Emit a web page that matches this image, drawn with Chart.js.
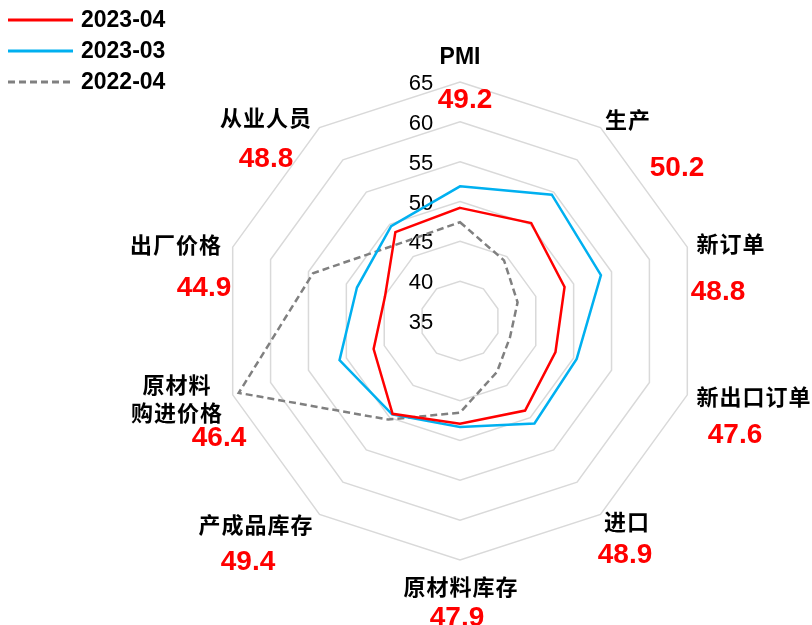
<!DOCTYPE html>
<html>
<head>
<meta charset="utf-8">
<script src="https://cdn.jsdelivr.net/npm/chart.js@4.4.1/dist/chart.umd.min.js"></script>
<style>
  html, body { margin: 0; padding: 0; background: #ffffff; }
  canvas { display: block; }
</style>
</head>
<body>
<canvas id="pmiRadar" width="812" height="625"></canvas>
<script>
// 制造业PMI及分项指数
const categories = ['PMI', '生产', '新订单', '新出口订单', '进口', '原材料库存', '产成品库存', ['原材料', '购进价格'], '出厂价格', '从业人员'];
const seriesNames = ['2023-04', '2023-03', '2022-04'];
const values202304 = [49.2, 50.2, 48.8, 47.6, 48.9, 47.9, 49.4, 46.4, 44.9, 48.8];
const values202303 = [51.9, 54.6, 53.6, 50.4, 50.9, 48.3, 49.5, 50.9, 48.6, 49.7];
const values202204 = [47.4, 44.4, 42.6, 41.6, 42.9, 46.5, 50.3, 64.2, 54.4, 47.2];
const tickValues = [35, 40, 45, 50, 55, 60, 65];

// Label placement: pixel offsets from each axis' outer vertex [nameDx, nameDy, valueDx, valueDy]
const labelOffsets = [
  [0, -24, 5, 18],
  [27.5, -7.6, 76.5, 40.4],
  [43.7, -4, 30.7, 45],
  [66.7, 2, 47.7, 40],
  [26.5, 7.6, 24.5, 40.6],
  [1, 27, -3, 58],
  [-63.5, 10.6, -71.5, 47.6],
  [-55.7, 4, -13.7, 43],
  [-56.7, -3, -28.7, 41],
  [-53.5, -9.6, -53.5, 31.4]
];

const LATIN = '"Liberation Sans", Arial, sans-serif';
const CJK = '"Noto Sans CJK SC", "Noto Sans", sans-serif';

// Tick numbers, left of the vertical axis
const tickLabelPlugin = {
  id: 'tickLabels',
  beforeDatasetsDraw(chart) {
    const s = chart.scales.r;
    const ctx = chart.ctx;
    ctx.save();
    ctx.font = '22px ' + LATIN;
    ctx.fillStyle = '#000000';
    ctx.textAlign = 'center';
    ctx.textBaseline = 'middle';
    tickValues.forEach(v => {
      const d = s.getDistanceFromCenterForValue(v);
      ctx.fillText(String(v), s.xCenter - 39, s.yCenter - d + 2);
    });
    ctx.restore();
  }
};

// Category names with the latest month's value underneath
const categoryLabelPlugin = {
  id: 'categoryLabels',
  afterDatasetsDraw(chart) {
    const s = chart.scales.r;
    const ctx = chart.ctx;
    const vals = chart.data.datasets[0].data;
    ctx.save();
    ctx.textAlign = 'center';
    ctx.textBaseline = 'middle';
    categories.forEach((name, i) => {
      const p = s.getPointPosition(i, s.drawingArea);
      const off = labelOffsets[i];
      const lines = Array.isArray(name) ? name : [name];
      ctx.fillStyle = '#000000';
      lines.forEach((ln, k) => {
        const isLatin = /^[A-Za-z]+$/.test(ln);
        if (isLatin) {
          ctx.font = 'bold 23px ' + LATIN;
          ctx.letterSpacing = '0px';
        } else {
          ctx.font = 'bold 22px ' + CJK;
          ctx.letterSpacing = '1px';
        }
        const y = p.y + off[1] + (k - (lines.length - 1) / 2) * 28;
        ctx.fillText(ln, p.x + off[0], y);
      });
      ctx.letterSpacing = '0px';
      ctx.font = 'bold 28px ' + LATIN;
      ctx.fillStyle = '#ff0000';
      ctx.fillText(vals[i].toFixed(1), p.x + off[2], p.y + off[3]);
    });
    ctx.restore();
  }
};

// Legend stacked in the top-left corner
const legendPlugin = {
  id: 'cornerLegend',
  afterDraw(chart) {
    const ctx = chart.ctx;
    ctx.save();
    chart.data.datasets.forEach((ds, i) => {
      const y = 20 + i * 31;
      ctx.beginPath();
      ctx.strokeStyle = ds.borderColor;
      ctx.lineWidth = 3;
      ctx.setLineDash(ds.borderDash || []);
      ctx.moveTo(8, y);
      ctx.lineTo(73, y);
      ctx.stroke();
      ctx.setLineDash([]);
      ctx.fillStyle = '#000000';
      ctx.font = 'bold 23px ' + LATIN;
      ctx.textAlign = 'left';
      ctx.textBaseline = 'middle';
      ctx.fillText(ds.label, 81, y + 1);
    });
    ctx.restore();
  }
};

new Chart(document.getElementById('pmiRadar'), {
  type: 'radar',
  data: {
    labels: categories,
    datasets: [
      { label: seriesNames[0], data: values202304, borderColor: '#ff0000', borderWidth: 2.5, fill: false, pointRadius: 0, tension: 0 },
      { label: seriesNames[1], data: values202303, borderColor: '#00b0f0', borderWidth: 2.5, fill: false, pointRadius: 0, tension: 0 },
      { label: seriesNames[2], data: values202204, borderColor: '#808080', borderWidth: 2.5, borderDash: [7, 4], fill: false, pointRadius: 0, tension: 0 }
    ]
  },
  options: {
    responsive: false,
    animation: false,
    events: [],
    layout: { padding: { left: 221, right: 113, top: 82, bottom: 65 } },
    plugins: { legend: { display: false }, tooltip: { enabled: false } },
    elements: { line: { borderJoinStyle: 'miter' } },
    scales: {
      r: {
        min: 35,
        max: 65,
        ticks: { stepSize: 5, display: false },
        grid: { color: '#d9d9d9', lineWidth: 1.5 },
        angleLines: { display: false },
        pointLabels: { display: false }
      }
    }
  },
  plugins: [tickLabelPlugin, categoryLabelPlugin, legendPlugin]
});
</script>
</body>
</html>
